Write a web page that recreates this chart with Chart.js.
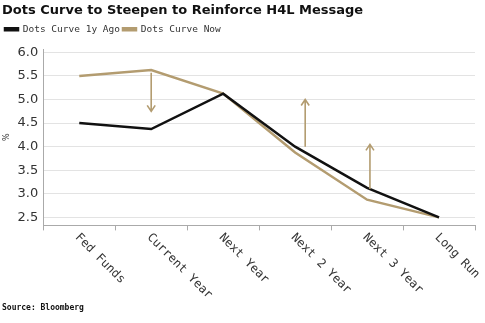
<!DOCTYPE html>
<html>
<head>
<meta charset="utf-8">
<script src="https://cdn.jsdelivr.net/npm/chart.js@4.4.1/dist/chart.umd.min.js"></script>
<style>
  html, body { margin: 0; padding: 0; background: #fff; }
  #wrap { width: 485px; height: 323px; position: relative; }
</style>
</head>
<body>
<div id="wrap"><canvas id="dotsChart" width="485" height="323"></canvas></div>
<script>
// Chart data
const categories = ['Fed Funds', 'Current Year', 'Next Year', 'Next 2 Year', 'Next 3 Year', 'Long Run'];
const dotsYearAgo = [4.5, 4.375, 5.125, 4.0, 3.125, 2.5];
const dotsNow = [5.5, 5.625, 5.125, 3.875, 2.875, 2.5];
const yTicks = [2.5, 3.0, 3.5, 4.0, 4.5, 5.0, 5.5, 6.0];

// Arrows drawn on the chart (category position, start value, end value)
const arrowAt = [1.0, 3.14, 4.04];
const arrowFrom = [5.57, 4.0, 3.1];
const arrowTo = [4.75, 5.0, 4.05];

const BLACK = '#111111';
const GOLD = '#b39c70';

// Empty box between the legend and the plot
const spacer = {
    id: 'spacer',
    beforeInit(chart) {
        Chart.layouts.addBox(chart, {
            position: 'top',
            weight: 500,
            fullSize: true,
            options: {},
            update(maxWidth) {
                this.width = maxWidth;
                this.height = 5;
            },
            isHorizontal() { return true; },
            getPadding() { return { top: 0, left: 0, right: 0, bottom: 0 }; },
            draw() {}
        });
    }
};

// Rotated x labels + arrows
const customDraw = {
    id: 'customDraw',
    afterDraw(chart) {
        const ctx = chart.ctx;
        const x = chart.scales.x;
        const y = chart.scales.y;

        // arrows
        ctx.save();
        ctx.strokeStyle = GOLD;
        ctx.lineWidth = 1.6;
        arrowAt.forEach((pos, i) => {
            const px = x.getPixelForValue(pos);
            const y0 = y.getPixelForValue(arrowFrom[i]);
            const y1 = y.getPixelForValue(arrowTo[i]);
            const dir = y1 < y0 ? 1 : -1;
            ctx.beginPath();
            ctx.moveTo(px, y0);
            ctx.lineTo(px, y1);
            ctx.moveTo(px - 4, y1 + dir * 6);
            ctx.lineTo(px, y1);
            ctx.lineTo(px + 4, y1 + dir * 6);
            ctx.stroke();
        });
        ctx.restore();

        // x labels, rotated clockwise
        ctx.save();
        ctx.font = '12px "DejaVu Sans Mono"';
        ctx.fillStyle = '#333';
        ctx.textAlign = 'left';
        ctx.textBaseline = 'top';
        categories.forEach((label, i) => {
            const px = x.getPixelForValue(i);
            ctx.save();
            ctx.translate(px + 2, x.top + 6);
            ctx.rotate(Math.PI / 4);
            ctx.fillText(label, 0, 0);
            ctx.restore();
        });
        ctx.restore();
    }
};

new Chart(document.getElementById('dotsChart').getContext('2d'), {
    type: 'line',
    data: {
        labels: categories,
        datasets: [{
            label: 'Dots Curve 1y Ago',
            data: dotsYearAgo,
            borderColor: BLACK,
            backgroundColor: BLACK,
            borderWidth: 2.5,
            pointRadius: 0,
            tension: 0
        }, {
            label: 'Dots Curve Now',
            data: dotsNow,
            borderColor: GOLD,
            backgroundColor: GOLD,
            borderWidth: 2.5,
            pointRadius: 0,
            tension: 0
        }]
    },
    options: {
        responsive: false,
        animation: false,
        layout: { padding: { left: 2, right: 10, top: 3, bottom: 4 } },
        plugins: {
            title: {
                display: true,
                text: 'Dots Curve to Steepen to Reinforce H4L Message',
                align: 'start',
                color: '#111',
                font: { family: 'DejaVu Sans', size: 13, weight: 'bold' },
                padding: { top: 0, bottom: 3 }
            },
            legend: {
                display: true,
                align: 'start',
                labels: {
                    boxWidth: 13,
                    boxHeight: 2,
                    padding: 3,
                    color: '#333',
                    font: { family: 'DejaVu Sans Mono', size: 9.5 }
                }
            },
            subtitle: {
                display: true,
                position: 'bottom',
                align: 'start',
                text: 'Source: Bloomberg',
                color: '#111',
                font: { family: 'DejaVu Sans Mono', size: 8, weight: 'bold' },
                padding: { top: 0, bottom: 6 }
            },
            tooltip: { enabled: false }
        },
        scales: {
            x: {
                offset: true,
                grid: {
                    offset: true,
                    drawOnChartArea: false,
                    drawTicks: true,
                    tickLength: 5,
                    color: '#aaa'
                },
                border: { color: '#aaa' },
                ticks: { display: false },
                afterFit(scale) { scale.height = 78; }
            },
            y: {
                min: 2.33,
                max: 6.07,
                afterBuildTicks(scale) {
                    scale.ticks = yTicks.map(v => ({ value: v }));
                },
                afterFit(scale) { scale.width += 1; },
                grid: {
                    color: '#e3e3e3',
                    drawTicks: false
                },
                border: { color: '#aaa' },
                ticks: {
                    padding: 5,
                    color: '#333',
                    font: { family: 'DejaVu Sans', size: 13 },
                    callback: v => v.toFixed(1)
                },
                title: {
                    display: true,
                    text: '%',
                    color: '#333',
                    font: { family: 'DejaVu Sans', size: 8 },
                    padding: { top: 0, bottom: 0 }
                }
            }
        }
    },
    plugins: [spacer, customDraw]
});
</script>
</body>
</html>
